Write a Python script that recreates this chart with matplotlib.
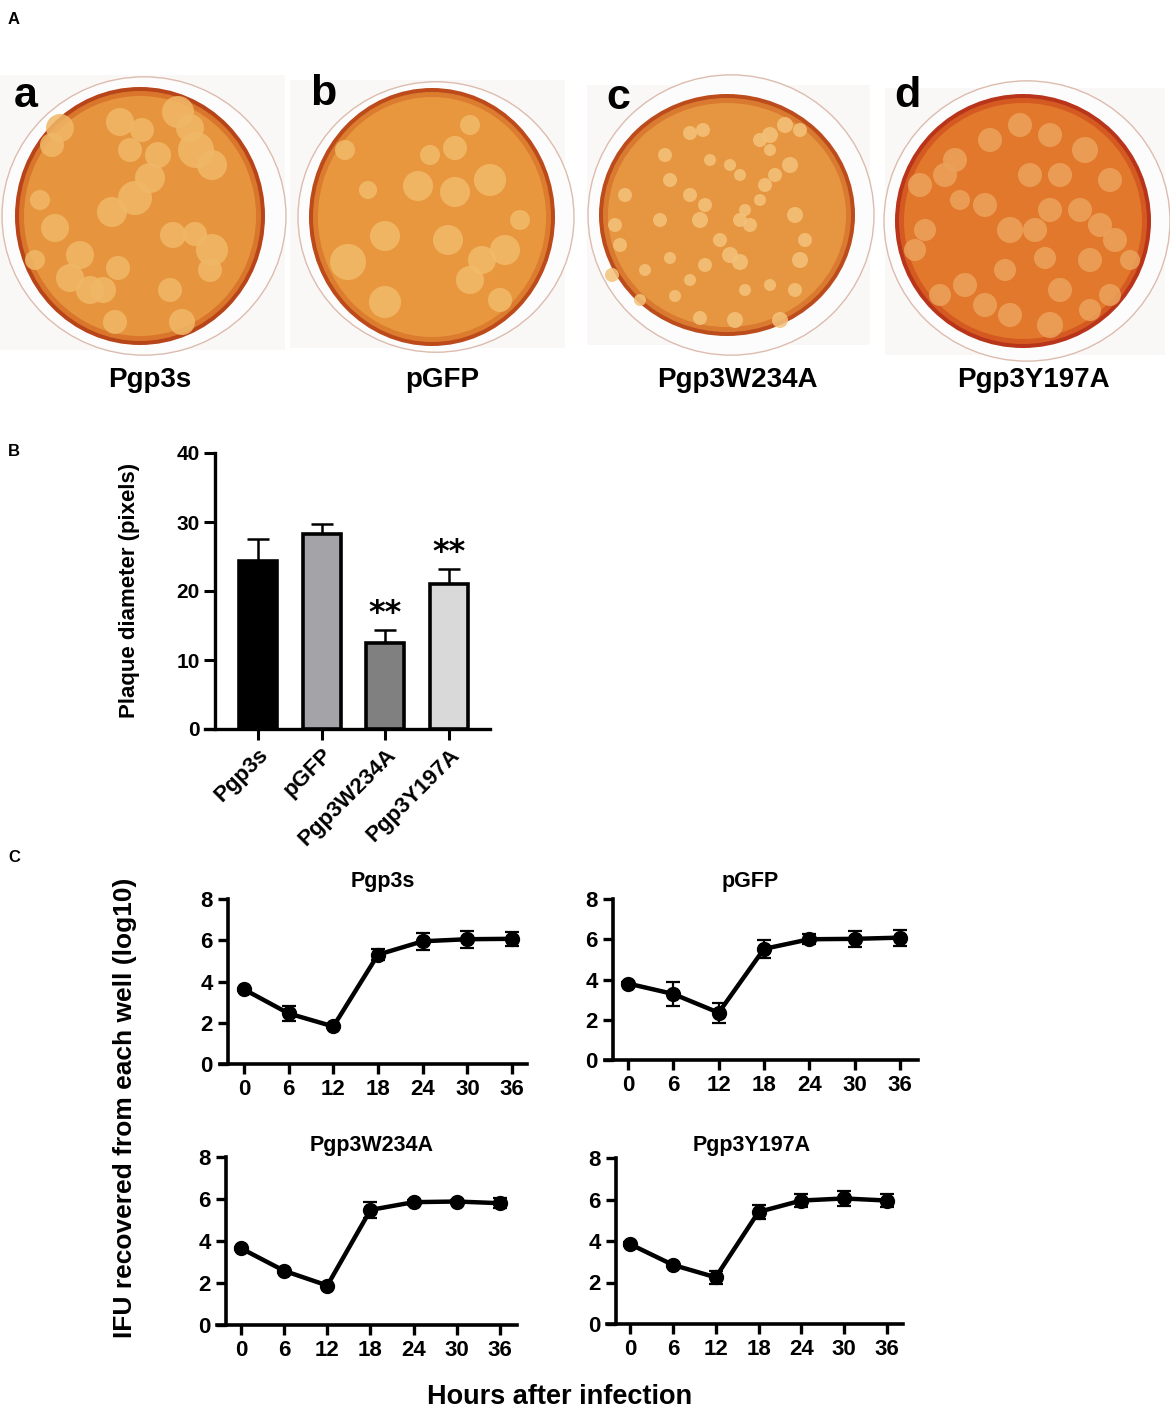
import matplotlib
matplotlib.use("Agg")
import matplotlib.pyplot as plt
from matplotlib.patches import Ellipse, Rectangle, Circle
import numpy as np

# ---------------- data ----------------
groups = ["Pgp3s", "pGFP", "Pgp3W234A", "Pgp3Y197A"]
plate_letters = ["a", "b", "c", "d"]

# Panel B: plaque diameter (pixels)
diam_mean = [24.3, 28.3, 12.5, 21.0]
diam_err = [3.2, 1.4, 1.8, 2.2]
diam_sig = ["", "", "**", "**"]
bar_colors = ["#000000", "#a3a3a8", "#808080", "#d9d9d9"]

# Panel C: IFU recovered (log10)
hours = [0, 6, 12, 18, 24, 30, 36]
ifu_pgp3s = [3.62, 2.45, 1.82, 5.30, 5.95, 6.05, 6.07]
ifu_pgp3s_err = [0.08, 0.35, 0.08, 0.28, 0.40, 0.42, 0.35]
ifu_pgfp = [3.80, 3.28, 2.35, 5.52, 6.00, 6.02, 6.08]
ifu_pgfp_err = [0.08, 0.60, 0.50, 0.45, 0.25, 0.40, 0.40]
ifu_w234a = [3.65, 2.58, 1.88, 5.48, 5.85, 5.88, 5.80]
ifu_w234a_err = [0.08, 0.08, 0.08, 0.38, 0.12, 0.08, 0.25]
ifu_y197a = [3.85, 2.85, 2.25, 5.40, 5.95, 6.05, 5.95]
ifu_y197a_err = [0.08, 0.08, 0.30, 0.32, 0.30, 0.35, 0.30]
ifu_series = [ifu_pgp3s, ifu_pgfp, ifu_w234a, ifu_y197a]
ifu_errors = [ifu_pgp3s_err, ifu_pgfp_err, ifu_w234a_err, ifu_y197a_err]

# Panel A: plaques visible on each plate (x, y, radius) in picture pixels
plaques_a = [(120,122,14),(142,130,12),(158,155,13),(130,150,12),(150,178,15),(135,198,17),
             (112,212,15),(178,112,16),(190,128,14),(196,150,18),(212,165,15),(60,128,14),
             (52,145,12),(55,228,14),(80,255,14),(70,278,14),(90,290,14),(103,290,13),
             (118,268,12),(173,235,13),(195,234,12),(212,250,16),(210,270,12),(170,290,12),
             (182,322,13),(115,322,12),(40,200,10),(35,260,10)]
plaques_b = [(368,190,9),(385,236,15),(348,262,18),(385,302,16),(418,186,15),(455,192,15),
             (490,180,16),(448,240,15),(482,260,14),(505,250,15),(470,280,14),(500,300,12),
             (430,155,10),(455,148,12),(470,125,10),(520,220,10),(345,150,10)]
plaques_c = [(665,155,7),(690,133,7),(703,130,7),(670,180,7),(710,160,6),(690,195,7),(705,205,7),
             (700,220,8),(660,220,7),(625,195,7),(620,245,7),(645,270,6),(670,258,6),(690,280,6),
             (675,296,6),(705,265,7),(730,255,8),(740,262,8),(720,240,7),(740,220,7),(750,225,7),
             (745,210,6),(760,200,6),(765,185,7),(775,175,7),(790,165,8),(770,150,6),(760,140,7),
             (770,135,8),(740,175,6),(730,165,6),(795,215,8),(805,240,7),(800,260,8),(795,290,7),
             (770,285,6),(780,320,8),(735,320,8),(700,318,7),(640,300,6),(745,290,6),(785,125,8),
             (800,130,7),(615,225,7),(612,275,7)]
plaques_d = [(920,185,12),(945,175,12),(955,160,12),(990,140,12),(1020,125,12),(1050,135,12),
             (1085,150,13),(1110,180,12),(985,205,12),(960,200,10),(1010,230,13),(1035,230,12),
             (1050,210,12),(1080,210,12),(1100,225,12),(1115,240,12),(1130,260,10),(1090,260,12),
             (1045,258,11),(1005,270,11),(985,305,12),(965,285,12),(940,295,11),(915,250,11),
             (925,230,11),(1010,315,12),(1050,325,13),(1090,310,11),(1110,295,11),(1060,290,12),
             (1060,175,12),(1030,175,12)]
plaques_all = [plaques_a, plaques_b, plaques_c, plaques_d]

# ---------------- layout (pixels) ----------------
W, H = 1170, 1410
fig = plt.figure(figsize=(W / 100, H / 100), dpi=100)
fig.patch.set_facecolor("white")

BOLD = dict(fontweight="bold", family=["Liberation Sans", "DejaVu Sans"])

def px_axes(x0, y_top, x1, y_bot):
    return fig.add_axes([x0 / W, 1 - y_bot / H, (x1 - x0) / W, (y_bot - y_top) / H])

# overlay for panel A + free text
ov = fig.add_axes([0, 0, 1, 1])
ov.set_xlim(0, W)
ov.set_ylim(H, 0)
ov.axis("off")

# plates: (photo box), centre, disc radii, rim radius, colours, letter pos
plate_geo = [
    ((0, 75, 285, 350), (140, 216), (125, 129), 142, "#b8441a", "#d9762c", "#e6953e", "#f0b867", (14, 76)),
    ((290, 80, 565, 348), (432, 217), (123, 129), 138, "#bc4a1a", "#dc7c2e", "#e8973f", "#f2bb6a", (310, 74)),
    ((587, 85, 870, 345), (727, 215), (128, 121), 143, "#bc4c1c", "#da7a30", "#e69640", "#f4c27a", (606, 78)),
    ((885, 88, 1165, 355), (1023, 221), (128, 127), 143, "#b8341a", "#d45a22", "#e2782c", "#eca25c", (894, 76)),
]
for (box, (cx, cy), (rx, ry), rim, edge_c, mid_c, fill_c, pl_c, (lx, ly)), pls, letter, g in zip(
        plate_geo, plaques_all, plate_letters, groups):
    bx0, by0, bx1, by1 = box
    ov.add_patch(Rectangle((bx0, by0), bx1 - bx0, by1 - by0, facecolor="#faf8f7",
                           edgecolor="none", zorder=1))
    ov.add_patch(Ellipse((cx + 4, cy), 2 * rim, 2 * rim * 0.98, facecolor="#fdfcfc",
                         edgecolor="#dcbcae", lw=1.0, zorder=2))
    ov.add_patch(Ellipse((cx, cy), 2 * rx, 2 * ry, facecolor=edge_c, edgecolor="none", zorder=3))
    ov.add_patch(Ellipse((cx, cy), 2 * rx - 8, 2 * ry - 8, facecolor=mid_c, edgecolor="none", zorder=3))
    ov.add_patch(Ellipse((cx, cy), 2 * rx - 18, 2 * ry - 18, facecolor=fill_c,
                         edgecolor="none", zorder=4))
    for (px, py, pr) in pls:
        ov.add_patch(Circle((px, py), pr, facecolor=pl_c, edgecolor="none", alpha=0.85, zorder=5))
    ov.text(lx, ly, letter, fontsize=31, va="top", ha="left", zorder=6, **BOLD)
    ov.text(cx + 10, 380, g, fontsize=20, ha="center", va="center", **BOLD)

ov.text(8, 20, "A", fontsize=12, ha="left", va="center", **BOLD)
ov.text(8, 452, "B", fontsize=12, ha="left", va="center", **BOLD)
ov.text(8, 858, "C", fontsize=12, ha="left", va="center", **BOLD)

# ---------------- Panel B ----------------
b_px0, b_scale = 258.0, 63.67
axb = px_axes(205, 453, 490, 729)
axb.set_xlim((205 - b_px0) / b_scale, (490 - b_px0) / b_scale)
axb.set_ylim(0, 40)
xb = np.arange(len(groups))
axb.bar(xb, diam_mean, width=0.6, color=bar_colors, edgecolor="black", linewidth=2.6, zorder=3)
axb.errorbar(xb, diam_mean, yerr=[np.zeros(len(diam_err)), diam_err], fmt="none",
             ecolor="black", elinewidth=1.8, capsize=8, capthick=1.8, zorder=2, clip_on=False)
for xi, m, e, s in zip(xb, diam_mean, diam_err, diam_sig):
    if s:
        axb.text(xi, m + e + 0.2, s, ha="center", va="bottom", fontsize=23,
                 family=["DejaVu Sans"], fontweight="bold")
for side in ["top", "right"]:
    axb.spines[side].set_visible(False)
axb.spines["left"].set_position(("data", (215 - b_px0) / b_scale))
axb.spines["left"].set_linewidth(2.4)
axb.spines["bottom"].set_linewidth(2.4)
axb.set_yticks([0, 10, 20, 30, 40])
axb.set_xticks(xb)
axb.set_xticklabels(groups, rotation=45, ha="right", rotation_mode="anchor")
axb.tick_params(axis="both", width=2.2, length=8, labelsize=15, pad=3)
for lab in axb.get_xticklabels() + axb.get_yticklabels():
    lab.set_fontweight("bold")
    lab.set_family(["Liberation Sans", "DejaVu Sans"])
for lab in axb.get_xticklabels():
    lab.set_fontsize(16)
ov.text(130, 590, "Plaque diameter (pixels)", rotation=90, fontsize=16,
        ha="center", va="center", **BOLD)

# ---------------- Panel C ----------------
# (px of hour 0, px per hour, axis left, axis right, y-spine x, y of 8, y of 0, title x, title y)
c_layout = [
    (244, 7.444, 220, 527, 228, 899, 1064, 383, 882),
    (628, 7.556, 605, 918, 613, 899, 1060, 750, 882),
    (241, 7.194, 217, 517, 226, 1157, 1325, 372, 1145),
    (630, 7.139, 607, 903, 616, 1158, 1324, 752, 1145),
]
for (p0, sc, xa, xbb, xs, y8, y0, tx, ty), g, vals, errs in zip(
        c_layout, groups, ifu_series, ifu_errors):
    ax = px_axes(xa, y8, xbb, y0)
    ax.set_xlim((xa - p0) / sc, (xbb - p0) / sc)
    ax.set_ylim(0, 8)
    ax.errorbar(hours, vals, yerr=errs, fmt="none", ecolor="black", elinewidth=1.6,
                capsize=5, capthick=1.6, zorder=2, clip_on=False)
    ax.plot(hours, vals, color="black", lw=3.2, marker="o", markersize=10, zorder=3,
            clip_on=False)
    for side in ["top", "right"]:
        ax.spines[side].set_visible(False)
    ax.spines["left"].set_position(("data", (xs - p0) / sc))
    ax.spines["left"].set_linewidth(2.6)
    ax.spines["bottom"].set_linewidth(2.6)
    ax.set_xticks(hours)
    ax.set_yticks([0, 2, 4, 6, 8])
    ax.tick_params(axis="both", width=2.4, length=7, labelsize=16, pad=4)
    for lab in ax.get_xticklabels() + ax.get_yticklabels():
        lab.set_fontweight("bold")
        lab.set_family(["Liberation Sans", "DejaVu Sans"])
    ov.text(tx, ty, g, fontsize=15.5, ha="center", va="center", **BOLD)

ov.text(125, 1108, "IFU recovered from each well (log10)", rotation=90, fontsize=19,
        ha="center", va="center", **BOLD)
ov.text(560, 1397, "Hours after infection", fontsize=19.5, ha="center", va="center", **BOLD)

fig.savefig("out.png", dpi=100, facecolor="white")
